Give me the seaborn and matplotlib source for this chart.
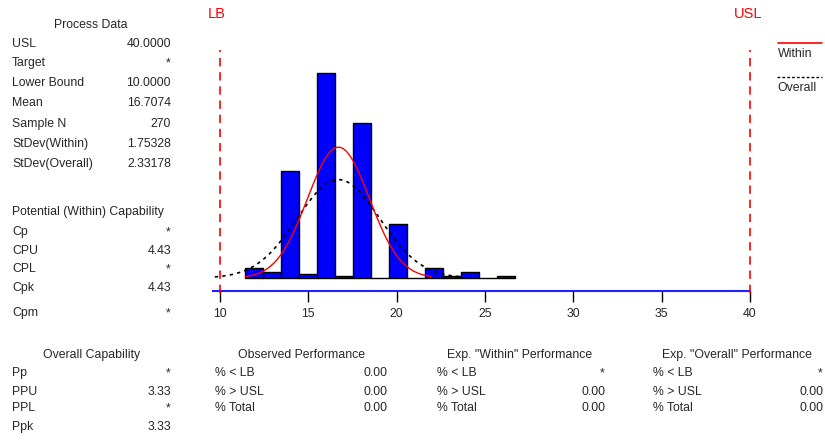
import numpy as np
import pandas as pd
import matplotlib
matplotlib.use("Agg")
import matplotlib.pyplot as plt
from matplotlib.lines import Line2D
import seaborn as sns

# ---- process capability data ----
lb = 10.0
usl = 40.0
mean = 16.7074
sample_n = 270
sd_within = 1.75328
sd_overall = 2.33178

bin_edges = [11.43 + 1.017 * k for k in range(16)]
bin_counts = [5, 3, 51, 2, 98, 1, 74, 0, 26, 0, 5, 1, 3, 0, 1]

x_ticks = [10, 15, 20, 25, 30, 35, 40]

process_labels = ["USL", "Target", "Lower Bound", "Mean", "Sample N",
                  "StDev(Within)", "StDev(Overall)"]
process_values = ["40.0000", "*", "10.0000", "16.7074", "270",
                  "1.75328", "2.33178"]

within_labels = ["Cp", "CPU", "CPL", "Cpk", "Cpm"]
within_values = ["*", "4.43", "*", "4.43", "*"]

overall_labels = ["Pp", "PPU", "PPL", "Ppk"]
overall_values = ["*", "3.33", "*", "3.33"]

perf_labels = ["% < LB", "% > USL", "% Total"]
observed_values = ["0.00", "0.00", "0.00"]
exp_within_values = ["*", "0.00", "0.00"]
exp_overall_values = ["*", "0.00", "0.00"]

# ---- figure setup ----
W, H = 825, 441
sns.set_style("white")
plt.rcParams["font.family"] = ["Liberation Sans", "DejaVu Sans"]
fig = plt.figure(figsize=(W / 100, H / 100), dpi=100)
FS = 8.8


def fxy(x, y):
    return x / W, 1 - y / H


# plot area
ax = fig.add_axes([212.7 / W, 1 - 291 / H, (750 - 212.7) / W, (291 - 50) / H])

edges = np.array(bin_edges)
centers = (edges[:-1] + edges[1:]) / 2
hist_df = pd.DataFrame({"value": centers, "count": bin_counts})
sns.histplot(data=hist_df, x="value", weights="count", bins=list(bin_edges),
             color="#0000FF", alpha=1.0, edgecolor="black", linewidth=1.0,
             ax=ax)

bin_w = edges[1] - edges[0]


def normal_curve(sd):
    xs = np.linspace(mean - 3 * sd, mean + 3 * sd, 60)
    ys = sample_n * bin_w * np.exp(-0.5 * ((xs - mean) / sd) ** 2) / (sd * np.sqrt(2 * np.pi))
    return pd.DataFrame({"x": xs, "y": ys})


sns.lineplot(data=normal_curve(sd_overall), x="x", y="y", color="black",
             linewidth=1.2, linestyle=(0, (2, 2.5)), ax=ax)
sns.lineplot(data=normal_curve(sd_within), x="x", y="y", color="red",
             linewidth=1.0, ax=ax)

# spec limit lines
for v in (lb, usl):
    ax.plot([v, v], [-7.2, 108.8], color="red", linewidth=1.2,
            linestyle=(0, (5, 3.5)), clip_on=False, zorder=5)

ax.set_xlim(9.59, 40.0)
ax.set_ylim(-6.2, 108.8)
ax.set_xticks(x_ticks)
ax.set_xticklabels([str(t) for t in x_ticks], fontsize=FS)
ax.set_yticks([])
ax.set_xlabel("")
ax.set_ylabel("")
for s in ("top", "left", "right"):
    ax.spines[s].set_visible(False)
ax.spines["bottom"].set_color("#2020FF")
ax.spines["bottom"].set_linewidth(1.5)
ax.tick_params(axis="x", direction="out", length=8, width=1, color="black",
               pad=4, bottom=True)

# limit labels
fig.text(*fxy(217, 14), "LB", color="red", fontsize=10.5, ha="center", va="center")
fig.text(*fxy(748, 14), "USL", color="red", fontsize=10.5, ha="center", va="center")

# legend
fig.add_artist(Line2D([778 / W, 822 / W], [1 - 43 / H] * 2, color="red",
                      linewidth=1.2, transform=fig.transFigure))
fig.text(*fxy(778, 54), "Within", fontsize=FS, ha="left", va="center")
fig.add_artist(Line2D([777 / W, 822 / W], [1 - 77 / H] * 2, color="black",
                      linewidth=1.0, linestyle=(0, (2, 1.5)),
                      transform=fig.transFigure))
fig.text(*fxy(777, 88), "Overall", fontsize=FS, ha="left", va="center")


def table(header, hx, hy, labels, values, lx, vx, ys):
    if header:
        fig.text(*fxy(hx, hy), header, fontsize=FS, ha="center", va="center")
    for lab, val, y in zip(labels, values, ys):
        fig.text(*fxy(lx, y), lab, fontsize=FS, ha="left", va="center")
        fig.text(*fxy(vx, y), val, fontsize=FS, ha="right", va="center")


table("Process Data", 91, 25, process_labels, process_values, 12, 171,
      [44, 63, 83, 103, 124, 144, 164])

fig.text(*fxy(12, 212), "Potential (Within) Capability", fontsize=FS,
         ha="left", va="center")
table(None, 0, 0, within_labels, within_values, 12, 171,
      [232, 251, 269, 288, 313])

table("Overall Capability", 92, 355, overall_labels, overall_values, 12, 171,
      [373, 392, 408, 427])
table("Observed Performance", 302, 355, perf_labels, observed_values, 215, 388,
      [373, 392, 408])
table('Exp. "Within" Performance', 520, 355, perf_labels, exp_within_values,
      437, 605, [373, 392, 408])
table('Exp. "Overall" Performance', 737, 355, perf_labels, exp_overall_values,
      653, 823, [373, 392, 408])

fig.savefig("out.png", dpi=100)
